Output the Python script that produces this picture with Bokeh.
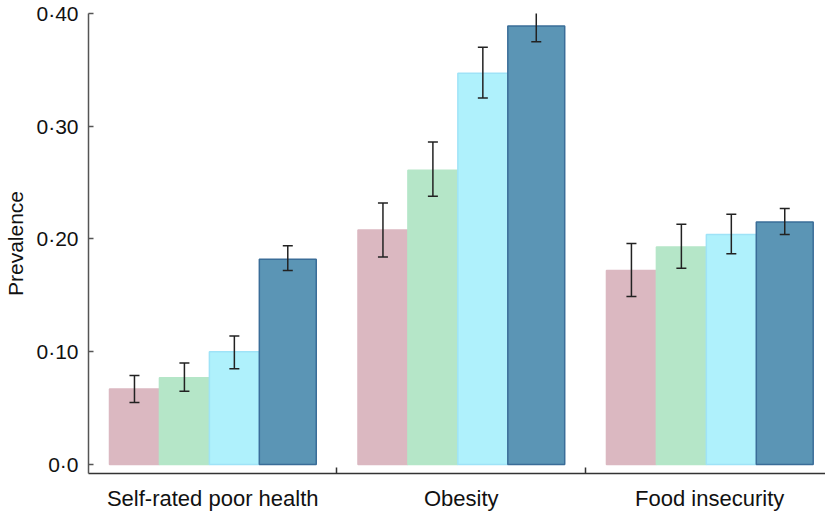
from bokeh.plotting import figure
from bokeh.models import Range1d, FixedTicker, Whisker, ColumnDataSource, TeeHead
from bokeh.embed import file_html
from bokeh.resources import INLINE

categories = ["Self-rated poor health", "Obesity", "Food insecurity"]
series_names = ["Group 1", "Group 2", "Group 3", "Group 4"]
prevalence = [
    [0.067, 0.077, 0.100, 0.182],
    [0.208, 0.261, 0.347, 0.389],
    [0.172, 0.193, 0.204, 0.215],
]
ci_lower = [
    [0.055, 0.065, 0.085, 0.172],
    [0.184, 0.238, 0.325, 0.375],
    [0.149, 0.174, 0.187, 0.204],
]
ci_upper = [
    [0.079, 0.090, 0.114, 0.194],
    [0.232, 0.286, 0.370, 0.403],
    [0.196, 0.213, 0.222, 0.227],
]
y_ticks = [0.0, 0.1, 0.2, 0.3, 0.4]
y_tick_labels = ["0·0", "0·10", "0·20", "0·30", "0·40"]

fills = ["#dbb8c1", "#b5e6c8", "#aff1fc", "#5b95b5"]
lines = ["#dbb8c1", "#b5e6c8", "#9fe3f7", "#3a6d98"]

FONT = "Liberation Sans"

p = figure(width=825, height=514, output_backend="svg", toolbar_location=None,
           x_range=Range1d(0, 2.966), y_range=Range1d(-0.008, 0.40),
           min_border_left=88, min_border_top=13, min_border_right=0, min_border_bottom=41)
p.outline_line_color = None
p.grid.grid_line_color = None
p.background_fill_color = "white"

offset = 0.0845
w = 0.201
w_last = 0.229
for k in range(4):
    lefts, rights, tops, centers, lo, hi = [], [], [], [], [], []
    for g in range(len(categories)):
        l = g + offset + k * w
        r = l + (w_last if k == 3 else w)
        lefts.append(l); rights.append(r)
        tops.append(prevalence[g][k])
        centers.append((l + r) / 2)
        lo.append(ci_lower[g][k]); hi.append(ci_upper[g][k])
    src = ColumnDataSource(dict(left=lefts, right=rights, top=tops, x=centers, lo=lo, hi=hi))
    p.quad(left="left", right="right", bottom=0, top="top", source=src,
           fill_color=fills[k], line_color=lines[k], line_width=1.5)
    wk = Whisker(base="x", lower="lo", upper="hi", source=src, line_color="#222222", line_width=1.5,
                 level="overlay",
                 upper_head=TeeHead(size=10, line_color="#222222", line_width=1.5),
                 lower_head=TeeHead(size=10, line_color="#222222", line_width=1.5))
    p.add_layout(wk)

# y axis
ya = p.yaxis[0]
ya.ticker = FixedTicker(ticks=y_ticks)
ya.major_label_overrides = {t: s for t, s in zip(y_ticks, y_tick_labels)}
ya.major_tick_in = 5
ya.major_tick_out = 0
ya.minor_tick_line_color = None
ya.axis_line_color = "#555555"
ya.axis_line_width = 1.5
ya.major_tick_line_color = "#555555"
ya.major_tick_line_width = 1.5
ya.major_label_text_font = FONT
ya.major_label_text_font_size = "21px"
ya.major_label_text_color = "#111111"
ya.major_label_standoff = 10
ya.axis_label = "Prevalence"
ya.axis_label_text_font = FONT
ya.axis_label_text_font_size = "21px"
ya.axis_label_text_font_style = "normal"
ya.axis_label_text_color = "#111111"
ya.axis_label_standoff = 6

# x axis
xa = p.xaxis[0]
centers = [g + 0.5 for g in range(len(categories))]
xa.ticker = FixedTicker(ticks=centers, minor_ticks=[1, 2, 3])
xa.major_label_overrides = {c: name for c, name in zip(centers, categories)}
xa.major_tick_in = 0
xa.major_tick_out = 0
xa.minor_tick_in = 6
xa.minor_tick_out = 0
xa.minor_tick_line_color = "#333333"
xa.minor_tick_line_width = 1.5
xa.axis_line_color = "#333333"
xa.axis_line_width = 1.5
xa.major_label_text_font = FONT
xa.major_label_text_font_size = "22px"
xa.major_label_text_color = "#111111"
xa.major_label_standoff = 12

open("out.html", "w").write(file_html(p, INLINE))
